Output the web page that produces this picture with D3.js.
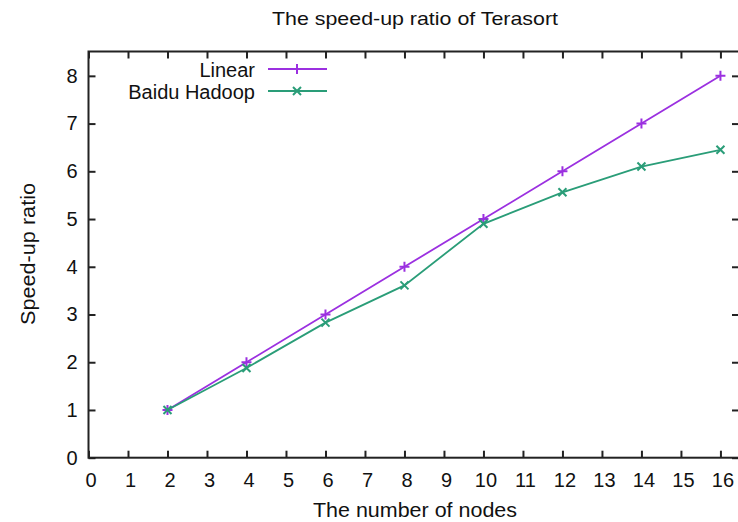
<!doctype html>
<html lang="en">
<head>
  <meta charset="utf-8">
  <title>Terasort speed-up</title>
  <style>
  body { margin: 0; background: #fff; }
  text { font-family: "Liberation Sans", Arial, sans-serif; fill: #111; }
  .frame { fill: none; stroke: #222; stroke-width: 2; }
  .tick line { stroke: #222; stroke-width: 2; }
  .domain { display: none; }
  </style>
</head>
<body>
  <div id="chart"></div>
  <script src="https://cdn.jsdelivr.net/npm/d3@7/dist/d3.min.js"></script>
  <script>
    var nodes = [2, 4, 6, 8, 10, 12, 14, 16];
    var linear = [1, 2, 3, 4, 5, 6, 7, 8];
    var baidu = [1, 1.88, 2.83, 3.61, 4.9, 5.56, 6.1, 6.45];
    var xTicks = d3.range(0, 17);
    var yTicks = d3.range(0, 9);
    var seriesNames = ["Linear", "Baidu Hadoop"];

    (function(){
      var width = 738, height = 522;
      var left = 88.5, right = 739, top = 51.5, bottom = 457.7;

      var x = d3.scaleLinear().domain([0, 16.47]).range([left, right]);
      var y = d3.scaleLinear().domain([0, 8.51]).range([bottom, top]);

      var svg = d3.select("#chart").append("svg")
          .attr("width", width).attr("height", height);

      // axes: labelled bottom/left, mirrored ticks top/right
      svg.append("g").attr("transform", "translate(0," + bottom + ")")
        .call(d3.axisBottom(x).tickValues(xTicks).tickSize(-7).tickPadding(15).tickFormat(d3.format("d")))
        .selectAll("text").style("font-size", "20px").attr("dx", 2);
      svg.append("g").attr("transform", "translate(0," + top + ")")
        .call(d3.axisTop(x).tickValues(xTicks).tickSize(-7).tickFormat(""));
      svg.append("g").attr("transform", "translate(" + left + ",0)")
        .call(d3.axisLeft(y).tickValues(yTicks).tickSize(-7).tickPadding(11).tickFormat(d3.format("d")))
        .selectAll("text").style("font-size", "20px");
      svg.append("g").attr("transform", "translate(" + right + ",0)")
        .call(d3.axisRight(y).tickValues(yTicks).tickSize(-7).tickFormat(""));

      svg.append("rect").attr("class", "frame")
        .attr("x", left).attr("y", top)
        .attr("width", right - left).attr("height", bottom - top);

      svg.append("text").attr("x", 272).attr("y", 25)
        .attr("textLength", 286).attr("lengthAdjust", "spacingAndGlyphs")
        .style("font-size", "19px")
        .text("The speed-up ratio of Terasort");
      svg.append("text").attr("x", 313).attr("y", 517)
        .attr("textLength", 204).attr("lengthAdjust", "spacingAndGlyphs")
        .style("font-size", "20px")
        .text("The number of nodes");
      svg.append("text").attr("transform", "translate(35,325) rotate(-90)")
        .attr("textLength", 142).attr("lengthAdjust", "spacingAndGlyphs")
        .style("font-size", "20px")
        .text("Speed-up ratio");

      var colors = ["#9b30e0", "#2a9d78"];
      var series = [linear, baidu];
      var line = d3.line().x(function(d){ return x(d[0]); }).y(function(d){ return y(d[1]); });

      var plus = function(g, cx, cy, c) {
        g.append("path").attr("d", "M" + (cx - 5) + "," + cy + "H" + (cx + 5) + "M" + cx + "," + (cy - 5) + "V" + (cy + 5))
          .attr("stroke", c).attr("stroke-width", 2);
      };
      var cross = function(g, cx, cy, c) {
        g.append("path").attr("d", "M" + (cx - 4) + "," + (cy - 4) + "L" + (cx + 4) + "," + (cy + 4) + "M" + (cx - 4) + "," + (cy + 4) + "L" + (cx + 4) + "," + (cy - 4))
          .attr("stroke", c).attr("stroke-width", 2);
      };
      var markers = [plus, cross];

      series.forEach(function(vals, i) {
        var pts = nodes.map(function(n, j){ return [n, vals[j]]; });
        var g = svg.append("g");
        g.append("path").attr("d", line(pts)).attr("fill", "none")
          .attr("stroke", colors[i]).attr("stroke-width", 1.8);
        pts.forEach(function(p){ markers[i](g, x(p[0]), y(p[1]), colors[i]); });

        // legend
        var ly = 69 + i * 22;
        svg.append("text").attr("x", 255).attr("y", ly + 8)
          .attr("text-anchor", "end").style("font-size", "20px").text(seriesNames[i]);
        svg.append("line").attr("x1", 268).attr("x2", 327).attr("y1", ly).attr("y2", ly)
          .attr("stroke", colors[i]).attr("stroke-width", 1.8);
        markers[i](svg, 297, ly, colors[i]);
      });
    })();
  </script>
</body>
</html>
